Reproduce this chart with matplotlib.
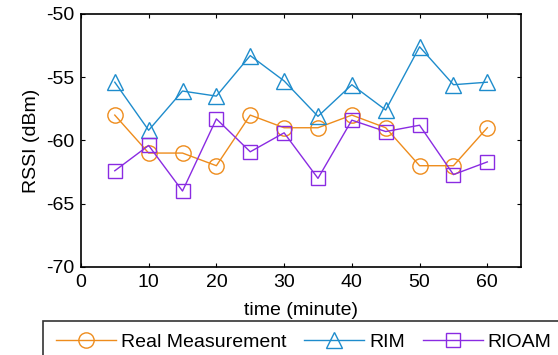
import numpy as np
import matplotlib.pyplot as plt

plt.rcParams['font.family'] = ['Liberation Sans', 'DejaVu Sans']
plt.rcParams['axes.unicode_minus'] = False

# datos
tiempo = [5, 10, 15, 20, 25, 30, 35, 40, 45, 50, 55, 60]
real = [-58, -61, -61, -62, -58, -59, -59, -58, -59, -62, -62, -59]
rim = [-55.4, -59.2, -56.1, -56.5, -53.3, -55.3, -58.1, -55.6, -57.6, -52.6, -55.6, -55.4]
rioam = [-62.4, -60.4, -64.0, -58.3, -60.9, -59.4, -63.0, -58.4, -59.3, -58.8, -62.7, -61.7]

x_ticks = [0, 10, 20, 30, 40, 50, 60]
y_ticks = [-70, -65, -60, -55, -50]

fig = plt.figure(figsize=(5.58, 3.55), dpi=100)
ax = fig.add_axes([0.145, 0.248, 0.789, 0.713])

ax.plot(tiempo, real, color='#EE8C1C', marker='o', markersize=11, mfc='none',
        lw=1, mew=1, label='Real Measurement')
ax.plot(tiempo, rim, color='#1E8CCC', marker='^', markersize=12, mfc='none',
        lw=1, mew=1, label='RIM')
ax.plot(tiempo, rioam, color='#8A2BE2', marker='s', markersize=10, mfc='none',
        lw=1, mew=1, label='RIOAM')

ax.set_xlim(0, 65)
ax.set_ylim(-70, -50)
ax.set_xticks(x_ticks)
ax.set_yticks(y_ticks)
ax.tick_params(direction='in', top=True, right=True, labelsize=14, length=3, pad=5)
for s in ax.spines.values():
    s.set_linewidth(1.2)

ax.set_xlabel('time (minute)', fontsize=14, labelpad=8)
ax.set_ylabel('RSSI (dBm)', fontsize=14, labelpad=4)

leg = fig.legend(loc='upper left', bbox_to_anchor=(0.077, 0.096), ncol=3,
                 fontsize=14, frameon=True, fancybox=False, edgecolor='black',
                 handlelength=3.1, columnspacing=0.9, handletextpad=0.26,
                 borderpad=0.65, borderaxespad=0)
leg.get_frame().set_linewidth(1.2)

plt.savefig('out.png', dpi=100)
